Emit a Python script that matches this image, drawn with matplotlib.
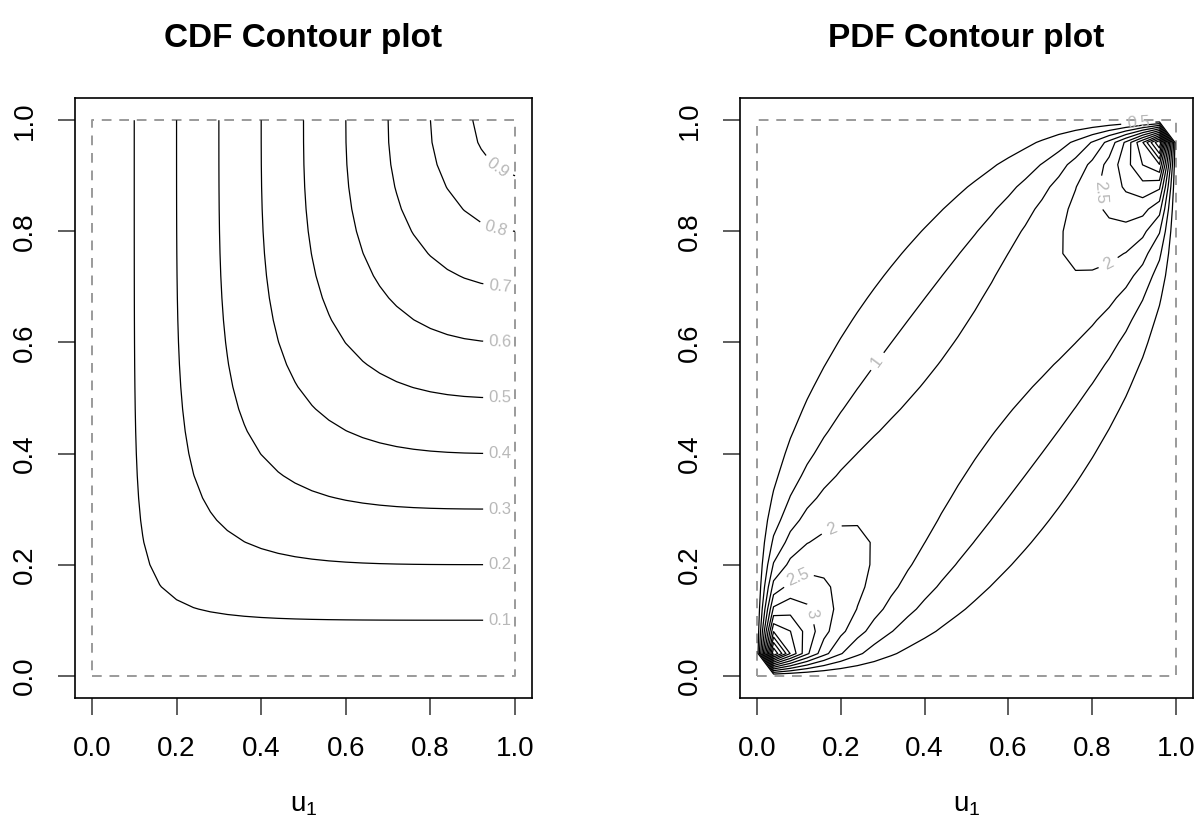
import math
from statistics import NormalDist

import numpy as np
import matplotlib
matplotlib.use("Agg")
import matplotlib.pyplot as plt

plt.rcParams["font.family"] = ["Liberation Sans", "DejaVu Sans"]
plt.rcParams["mathtext.fontset"] = "custom"
plt.rcParams["mathtext.rm"] = "Liberation Sans"

# Normal copula: rho ~ 0.8, 26-point grid on [0, 1]
RHO = 0.8
N_GRID = 26

CDF_LEVELS = [0.1, 0.2, 0.3, 0.4, 0.5, 0.6, 0.7, 0.8, 0.9]
PDF_LEVELS = [0.5, 1.0, 1.5, 2.0, 2.5, 3.0, 3.5, 4.0, 4.5, 5.0, 5.5, 6.0, 6.5]
TICKS = [0.0, 0.2, 0.4, 0.6, 0.8, 1.0]
TICK_LABELS = ["0.0", "0.2", "0.4", "0.6", "0.8", "1.0"]

# where R put the inline contour labels (level -> approximate spots)
CDF_LABEL_AT = {lev: [(0.965, lev)] for lev in CDF_LEVELS}
CDF_LABEL_AT[0.8] = [(0.955, 0.805)]
CDF_LABEL_AT[0.9] = [(0.96, 0.915)]
PDF_LABEL_AT = {
    0.5: [(0.91, 0.99)],
    1.0: [(0.28, 0.57)],
    2.0: [(0.84, 0.74), (0.18, 0.26)],
    2.5: [(0.82, 0.87), (0.11, 0.15)],
    3.0: [(0.12, 0.11)],
}

LABEL_GREY = "#b8b8b8"
BOX_GREY = "#9a9a9a"

_nd = NormalDist()


def qnorm(p):
    p = np.asarray(p, dtype=float)
    out = np.empty_like(p)
    for i, v in np.ndenumerate(p):
        if v <= 0:
            out[i] = -np.inf
        elif v >= 1:
            out[i] = np.inf
        else:
            out[i] = _nd.inv_cdf(v)
    return out


_erf = np.vectorize(math.erf)


def pnorm(x):
    return 0.5 * (1.0 + _erf(np.asarray(x) / math.sqrt(2.0)))


u = np.linspace(0.0, 1.0, N_GRID)
q = qnorm(u)
sd = math.sqrt(1.0 - RHO ** 2)

# CDF: C(u, v) = int_0^u P(V <= v | U = s) ds, midpoint rule
sub = 80
m = (N_GRID - 1) * sub
s_mid = (np.arange(m) + 0.5) / m
f = pnorm((q[None, :] - RHO * qnorm(s_mid)[:, None]) / sd)
cum = np.vstack([np.zeros((1, N_GRID)), np.cumsum(f, axis=0) / m])
cdf = cum[::sub, :]            # rows: u1, cols: u2

# PDF (zero on the border of the unit square)
inner = (u > 0) & (u < 1)
x = np.where(inner, q, 0.0)
X, Y = np.meshgrid(x, x, indexing="ij")
pdf = np.exp(-(RHO ** 2 * (X ** 2 + Y ** 2) - 2 * RHO * X * Y) / (2 * sd ** 2)) / sd
pdf[~inner, :] = 0.0
pdf[:, ~inner] = 0.0


def fmt(v):
    return f"{v:g}"


def panel(ax, z, levels, label_at, title):
    # one ContourSet per level so each can be labelled on its own
    for lev in levels:
        cs = ax.contour(u, u, z.T, levels=[lev], colors="black", linewidths=0.9)
        if lev in label_at:
            cs.clabel(manual=label_at[lev], inline=True, inline_spacing=7,
                      fontsize=12, colors=LABEL_GREY, fmt=fmt)
    ax.plot([0, 1, 1, 0, 0], [0, 0, 1, 1, 0], color=BOX_GREY, lw=1.4,
            ls=(0, (5, 4)), zorder=1)
    ax.set_xlim(-0.04, 1.04)
    ax.set_ylim(-0.04, 1.04)
    ax.set_xticks(TICKS)
    ax.set_xticklabels(TICK_LABELS)
    ax.set_yticks(TICKS)
    ax.set_yticklabels(TICK_LABELS, rotation=90, va="center")
    ax.tick_params(direction="out", length=12, width=1.1, labelsize=20,
                   pad=15, color="#333333")
    for sp in ax.spines.values():
        sp.set_linewidth(1.2)
    ax.set_xlabel(r"$\mathrm{u}_1$", fontsize=20, labelpad=22)
    ax.set_title(title, fontsize=24, fontweight="bold", pad=37)


fig = plt.figure(figsize=(11.96, 8.3), dpi=100)
ax1 = fig.add_axes([75 / 1196, 132 / 830, 457 / 1196, 600 / 830])
ax2 = fig.add_axes([740 / 1196, 132 / 830, 453 / 1196, 600 / 830])

panel(ax1, cdf, CDF_LEVELS, CDF_LABEL_AT, "CDF Contour plot")
panel(ax2, pdf, PDF_LEVELS, PDF_LABEL_AT, "PDF Contour plot")

fig.savefig("out.png", dpi=100)
